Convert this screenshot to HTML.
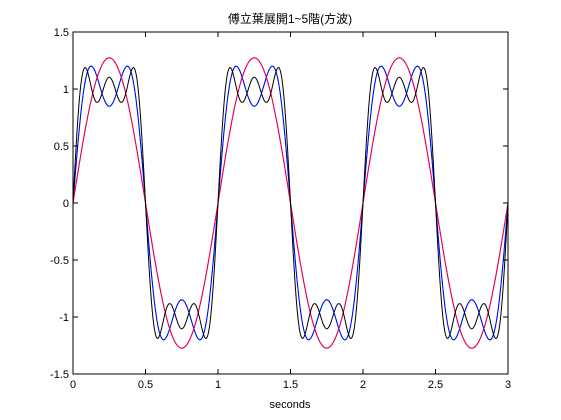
<!DOCTYPE html>
<html><head><meta charset="utf-8"><style>
html,body{margin:0;padding:0;background:#fff;}
svg{display:block;font-family:"Liberation Sans","Noto Sans CJK TC",sans-serif;}
</style></head><body>
<svg id="chart" width="561" height="420" xmlns="http://www.w3.org/2000/svg">
<rect width="561" height="420" fill="#fff"/>
<text x="290" y="23" font-size="12" text-anchor="middle">傅立葉展開1~5階(方波)</text>
<g id="plot"></g>
<g id="axes"></g>
<text x="290" y="408" font-size="11" text-anchor="middle">seconds</text>
</svg>
<script>
const xTicks = [0, 0.5, 1, 1.5, 2, 2.5, 3];
const xTickLabels = ["0", "0.5", "1", "1.5", "2", "2.5", "3"];
const yTicks = [-1.5, -1, -0.5, 0, 0.5, 1, 1.5];
const yTickLabels = ["-1.5", "-1", "-0.5", "0", "0.5", "1", "1.5"];
const seriesNames = ["partial-sum-5", "partial-sum-4", "partial-sum-1", "partial-sum-2", "partial-sum-3"];
const seriesHarmonics = [[1, 3], [1, 3], [1], [1], [1, 3, 5]];
const seriesColors = ["#00bfbf", "#0000ff", "#ff0000", "#e0006a", "#000000"];
const waveFrequency = 1;
const tStart = 0, tEnd = 3, nSamples = 600;

const L = 73, R = 508, T = 32, B = 374;
const xMin = 0, xMax = 3, yMin = -1.5, yMax = 1.5;
const sx = v => L + (v - xMin) / (xMax - xMin) * (R - L);
const sy = v => B - (v - yMin) / (yMax - yMin) * (B - T);
const NS = "http://www.w3.org/2000/svg";
const plot = document.getElementById('plot');
const axes = document.getElementById('axes');

seriesHarmonics.forEach((hs, i) => {
  let d = "";
  for (let j = 0; j <= nSamples; j++) {
    const t = tStart + (tEnd - tStart) * j / nSamples;
    let y = 0;
    hs.forEach(k => { y += 4 / Math.PI * Math.sin(2 * Math.PI * k * waveFrequency * t) / k; });
    d += (j ? "L" : "M") + sx(t).toFixed(2) + "," + sy(y).toFixed(2);
  }
  const p = document.createElementNS(NS, 'path');
  p.setAttribute('d', d);
  p.setAttribute('fill', 'none');
  p.setAttribute('stroke', seriesColors[i]);
  p.setAttribute('stroke-width', '1');
  
  
  plot.appendChild(p);
});

const box = document.createElementNS(NS, 'rect');
box.setAttribute('x', L); box.setAttribute('y', T);
box.setAttribute('width', R - L); box.setAttribute('height', B - T);
box.setAttribute('fill', 'none'); box.setAttribute('stroke', '#000');


axes.appendChild(box);

function line(x1, y1, x2, y2) {
  const l = document.createElementNS(NS, 'line');
  l.setAttribute('x1', x1); l.setAttribute('y1', y1); l.setAttribute('x2', x2); l.setAttribute('y2', y2);
  l.setAttribute('stroke', '#000');
  
  
  axes.appendChild(l);
}
function text(x, y, s, anchor) {
  const t = document.createElementNS(NS, 'text');
  t.setAttribute('x', x); t.setAttribute('y', y);
  t.setAttribute('font-size', '11'); t.setAttribute('text-anchor', anchor);
  t.textContent = s;
  
  
  axes.appendChild(t);
}
xTicks.forEach((v, i) => {
  const x = sx(v);
  line(x, B, x, B - 5); line(x, T, x, T + 5);
  text(x, B + 14, xTickLabels[i], 'middle');
});
yTicks.forEach((v, i) => {
  const y = sy(v);
  line(L, y, L + 5, y); line(R, y, R - 5, y);
  text(L - 4, y + 4, yTickLabels[i], 'end');
});
</script>
</body></html>
